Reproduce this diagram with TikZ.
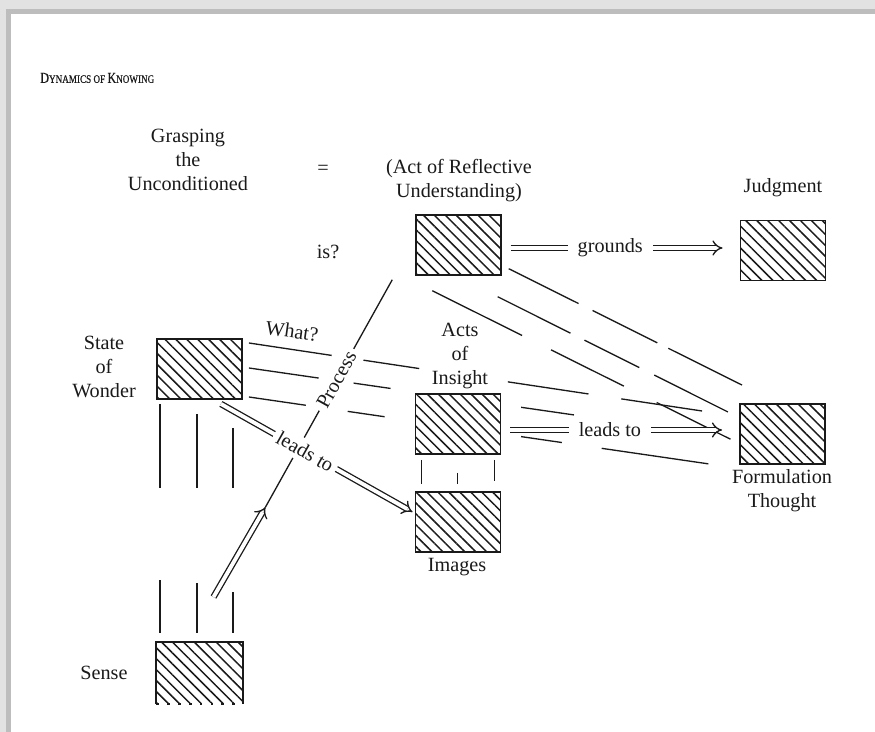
\documentclass[tikz,border=0pt]{standalone}
\usepackage{fontspec}
\setmainfont{Liberation Serif}
\newfontfamily\ttlfont[FakeStretch=0.8, FakeBold=0.6]{Liberation Serif}
\usetikzlibrary{arrows.meta,calc,patterns.meta,backgrounds}
\def\wLine{0.75pt}
\def\wBox{1.1pt}
\definecolor{cInk}{HTML}{1A1A1A}
\definecolor{cFrame}{HTML}{E2E2E2}
\definecolor{cFrameDark}{HTML}{BDBDBD}
\tikzset{
  fig/.style={font=\fontsize{11.5}{13.6}\selectfont, every node/.style={align=center, text=cInk}},
  hatchbox/.style={draw=cInk, line width=\wBox, minimum width=1.7cm, minimum height=1.2cm, inner sep=0pt,
    preaction={fill=white}, pattern={Lines[angle=-45, distance=4.4pt, line width=0.85pt]}, pattern color=cInk},
  openbox/.style={hatchbox, draw=none},
  ray/.style={draw=cInk, line width=\wLine},
  tick/.style={draw=cInk, line width=\wLine},
  dbl/.style={draw=cInk, line width=\wLine, double=white, double distance=2.2pt, -{Implies[length=5pt, width=10pt]}},
  lbl/.style={fill=white, inner sep=2.5pt},
}
\newcommand{\fsc}[2]{{\fontsize{8.6}{10}\selectfont #1}{\fontsize{6.5}{8}\selectfont #2}}

\begin{document}
\begin{tikzpicture}[fig, x=0.02cm, y=-0.02cm]
\useasboundingbox (0,0) rectangle (875,732);
% Page 875 x 732 px, one unit = one pixel, y runs down.

% boxes
\node[hatchbox] (und) at (458.5,245) {};
\node[hatchbox] (jud) at (783,250.5) {};
\node[hatchbox] (sow) at (199.5,369) {};
\node[hatchbox] (ins) at (458,424) {};
\node[hatchbox] (img) at (458,522) {};
\node[hatchbox] (frm) at (782.5,434) {};
\node[openbox]  (sen) at (199.5,673) {};
\draw[cInk, line width=\wBox] (sen.south west) -- (sen.north west) -- (sen.north east) -- (sen.south east);
\draw[cInk, line width=1.3pt, dash pattern=on 1.6pt off 4.6pt] (sen.south west) -- (sen.south east);

% texts
\node[anchor=west, inner sep=0pt] (ttl) at (40,78) {\ttlfont\fsc{D}{YNAMICS OF }\fsc{K}{NOWING}};
\node (gut) at (188,160) {Grasping\\the\\Unconditioned};
\node (eq)  at (323,170) {=};
\node (act) at (459,181) {(Act of Reflective\\Understanding)};
\node (is)  at (328,252) {is?};
\node (jdg) at (783,188) {Judgment};
\node (wdr) at (104,367) {State\\of\\Wonder};
\node[rotate=-8] (wht) at (292,331) {What?};
\node (ains) at (460,356) {Acts\\of\\Insight};
\node (imgs) at (457,567) {Images};
\node (fthk) at (782,491) {Formulation\\Thought};
\node (sns) at (104,673) {Sense};

\begin{scope}[on background layer]
\fill[white] (0,0) rectangle (875,732);
\fill[cFrame] (0,0) rectangle (875,14);
\fill[cFrame] (0,0) rectangle (11,732);
\fill[cFrameDark] (11,9) rectangle (875,14);
\fill[cFrameDark] (6,9) rectangle (11,732);
% rays from the state of wonder
\draw[ray, dash pattern=on 47.6pt off 18.3pt on 32.1pt off 51pt on 46.4pt off 18.9pt on 48.7pt]
  ($(sow.east)+(6,-26)$) -- ($(frm.west)+(-37,-23)$);
\draw[ray, dash pattern=on 40.1pt off 20.1pt on 21.2pt off 75.1pt on 30.4pt]
  ($(sow.east)+(6,-1)$) -- ($(ins.east)+(73,-9)$);
\draw[ray, dash pattern=on 32.7pt off 24.1pt on 21.2pt off 78.5pt on 23.5pt off 22.9pt on 61.3pt]
  ($(sow.east)+(6,28)$) -- ($(frm.south west)+(-30,-1)$);
% rays from reflective understanding
\draw[ray, dash pattern=on 44.4pt off 8.9pt on 41.2pt off 7pt on 46.9pt]
  ($(und.south east)+(7,-7)$) -- ($(frm.north west)+(3,-18)$);
\draw[ray, dash pattern=on 57.1pt off 18.4pt on 46.3pt off 20.9pt on 46.9pt]
  ($(und.south west)+(17,15)$) -- ($(frm.west)+(-7,6)$);
\draw[ray, dash pattern=on 46.3pt off 8.9pt on 34.9pt off 9.5pt on 46.9pt]
  ($(und.south east)+(-4,21)$) -- ($(frm.north west)+(-11,9)$);
% sense up to wonder
\draw[tick, dash pattern=on 47.6pt off 52.7pt on 30.6pt] ($(sow.south west)+(4,4)$) -- ($(sen.north west)+(4,-9)$);
\draw[tick, dash pattern=on 42pt off 54.4pt on 28.9pt] ($(sow.south west)+(41,14)$) -- ($(sen.north west)+(41,-9)$);
\draw[tick, dash pattern=on 34pt off 59.5pt on 23.8pt] ($(sow.south west)+(77,28)$) -- ($(sen.north west)+(77,-9)$);
% images up to insight
\draw[tick] ($(ins.south west)+(7,5)$) -- ($(img.north west)+(7,-7)$);
\draw[tick] ($(ins.south west)+(43,18)$) -- ($(img.north west)+(43,-7)$);
\draw[tick] ($(ins.south west)+(80,5)$) -- ($(img.north west)+(80,-10)$);
\end{scope}

% process: sense -> reflective understanding
\coordinate (tip) at ($(sen.north)+(66,-135)$);
\draw[dbl] ($(sen.north)+(14,-45)$) -- (tip);
\draw[ray] (tip) -- ($(und.south west)+(-23,4)$) node[lbl, sloped, pos=0.56] {Process};
% wonder leads to images
\draw[dbl] ($(sow.south east)+(-22,4)$) -- ($(img.west)+(-2,-10)$) node[lbl, sloped, pos=0.44] {leads to};
% grounds / leads to
\draw[dbl] ($(und.east)+(9,3)$) -- ($(jud.west)+(-17,-2.5)$) node[lbl, pos=0.47, inner xsep=5.5pt] {grounds};
\draw[dbl] ($(ins.east)+(9,6)$) -- ($(frm.west)+(-17,-4)$) node[lbl, pos=0.47, inner xsep=5.5pt] {leads to};
\end{tikzpicture}
\end{document}
